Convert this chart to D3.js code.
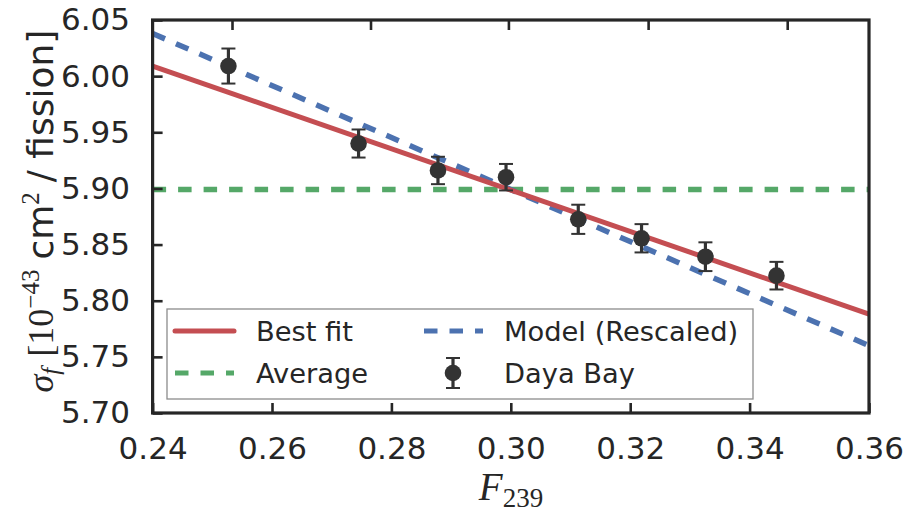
<!DOCTYPE html>
<html>
<head>
<meta charset="utf-8">
<script src="https://cdn.jsdelivr.net/npm/d3@7"></script>
<style>
  body { margin: 0; background: #fff; }
  svg { display: block; }
</style>
</head>
<body>
<svg width="908" height="512"></svg>
<script>
// Daya Bay points: fission fraction of Pu239 vs IBD yield per fission
const fission239 = [0.2527, 0.2745, 0.2878, 0.2992, 0.3113, 0.3219, 0.3326, 0.3445];
const sigmaF = [6.009, 5.940, 5.916, 5.910, 5.8725, 5.8556, 5.8392, 5.8223];
const sigmaErr = [0.0156, 0.0125, 0.0122, 0.0118, 0.013, 0.0126, 0.0128, 0.0123];

// straight lines, given at the two ends of the x range
const lineX = [0.24, 0.36];
const bestFitY = [6.009, 5.788];
const modelY = [6.038, 5.760];
const averageY = 5.899;

const xTicks = [0.24, 0.26, 0.28, 0.30, 0.32, 0.34, 0.36];
const yTicks = [5.70, 5.75, 5.80, 5.85, 5.90, 5.95, 6.00, 6.05];
const topTicks = [0.2533, 0.2765, 0.2996, 0.3230, 0.3463];

const legendLabels = ["Best fit", "Average", "Model (Rescaled)", "Daya Bay"];

const red = "#C44E52", blue = "#4C72B0", green = "#55A868", dark = "#333333", ink = "#262626";

let svg = d3.select("svg");
let plotLeft = 152.6, plotTop = 20, plotRight = 869, plotBottom = 413;
let w = plotRight - plotLeft, h = plotBottom - plotTop;

let x = d3.scaleLinear().domain([0.24, 0.36]).range([0, w]);
let y = d3.scaleLinear().domain([5.70, 6.05]).range([h, 0]);

let g = svg.append("g").attr("transform", `translate(${plotLeft},${plotTop})`);

let line = d3.line().x(d => x(d[0])).y(d => y(d[1]));

// lines
g.append("path")
    .attr("d", line(lineX.map(v => [v, averageY])))
    .attr("stroke", green).attr("stroke-width", 5.5).attr("fill", "none")
    .attr("stroke-dasharray", "13.5,12");
g.append("path")
    .attr("d", line(lineX.map((v, i) => [v, modelY[i]])))
    .attr("stroke", blue).attr("stroke-width", 5.5).attr("fill", "none")
    .attr("stroke-dasharray", "13.5,12");
g.append("path")
    .attr("d", line(lineX.map((v, i) => [v, bestFitY[i]])))
    .attr("stroke", red).attr("stroke-width", 5).attr("fill", "none");

// error bars + points
let pts = g.selectAll(".pt").data(fission239.map((f, i) => ({f: f, s: sigmaF[i], e: sigmaErr[i]})))
    .enter().append("g").attr("class", "pt");
pts.append("line")
    .attr("x1", d => x(d.f)).attr("x2", d => x(d.f))
    .attr("y1", d => y(d.s - d.e)).attr("y2", d => y(d.s + d.e))
    .attr("stroke", dark).attr("stroke-width", 3.2);
[-1, 1].forEach(sgn => {
    pts.append("line")
        .attr("x1", d => x(d.f) - 7).attr("x2", d => x(d.f) + 7)
        .attr("y1", d => y(d.s + sgn * d.e)).attr("y2", d => y(d.s + sgn * d.e))
        .attr("stroke", dark).attr("stroke-width", 2);
});
pts.append("circle")
    .attr("cx", d => x(d.f)).attr("cy", d => y(d.s)).attr("r", 8.3)
    .attr("fill", dark);

// axes
let xAxis = d3.axisBottom(x).tickValues(xTicks).tickFormat(d3.format(".2f"))
    .tickSizeInner(-10).tickSizeOuter(0).tickPadding(24);
let yAxis = d3.axisLeft(y).tickValues(yTicks).tickFormat(d3.format(".2f"))
    .tickSizeInner(-10).tickSizeOuter(0).tickPadding(22.6);
let topAxis = d3.axisTop(x).tickValues(topTicks).tickFormat("")
    .tickSizeInner(-10).tickSizeOuter(0);

function styleAxis(sel) {
    sel.select(".domain").remove();
    sel.selectAll(".tick line").attr("stroke", ink).attr("stroke-width", 2.6);
    sel.selectAll(".tick text").attr("fill", ink)
        .style("font-family", "'DejaVu Sans', sans-serif").style("font-size", "31px");
}
g.append("g").attr("transform", `translate(0,${h})`).call(xAxis).call(styleAxis);
g.append("g").call(yAxis).call(styleAxis);
g.append("g").call(topAxis).call(styleAxis);

g.append("rect").attr("width", w).attr("height", h)
    .attr("fill", "none").attr("stroke", ink).attr("stroke-width", 3.2);

// legend
let lg = g.append("g").attr("transform", `translate(${167 - plotLeft},${309 - plotTop})`);
lg.append("rect").attr("width", 586).attr("height", 90)
    .attr("fill", "#fff").attr("stroke", "#8c8c8c").attr("stroke-width", 1.3);
let rowY = [22, 64], colX = [8, 257], txtX = [89, 337];
let items = [
    {c: 0, r: 0, kind: "solid", color: red},
    {c: 0, r: 1, kind: "dash", color: green},
    {c: 1, r: 0, kind: "dash", color: blue},
    {c: 1, r: 1, kind: "point", color: dark}
];
items.forEach((it, i) => {
    let lx = colX[it.c], ly = rowY[it.r];
    if (it.kind === "point") {
        let cx = lx + 29;
        lg.append("line").attr("x1", cx).attr("x2", cx).attr("y1", ly - 15).attr("y2", ly + 15)
            .attr("stroke", dark).attr("stroke-width", 3.2);
        [-15, 15].forEach(o => lg.append("line").attr("x1", cx - 7).attr("x2", cx + 7)
            .attr("y1", ly + o).attr("y2", ly + o).attr("stroke", dark).attr("stroke-width", 2));
        lg.append("circle").attr("cx", cx).attr("cy", ly).attr("r", 8.3).attr("fill", dark);
    } else {
        lg.append("line").attr("x1", lx).attr("x2", lx + 59).attr("y1", ly).attr("y2", ly)
            .attr("stroke", it.color).attr("stroke-width", 5)
            .attr("stroke-linecap", it.kind === "solid" ? "round" : "butt")
            .attr("stroke-dasharray", it.kind === "dash" ? "13.5,12" : null);
    }
    lg.append("text").attr("x", txtX[it.c]).attr("y", ly).attr("dy", "0.36em")
        .attr("fill", ink)
        .style("font-family", "'DejaVu Sans', sans-serif").style("font-size", "27.3px")
        .text(legendLabels[i]);
});

// axis labels
let serif = "'Liberation Serif', 'DejaVu Serif', serif";
let sans = "'DejaVu Sans', sans-serif";
let yl = svg.append("text")
    .attr("transform", `translate(53,211) rotate(-90)`)
    .attr("text-anchor", "middle").attr("fill", ink).style("font-size", "36px");
yl.append("tspan").style("font-family", serif).style("font-style", "italic").text("σ");
yl.append("tspan").style("font-family", serif).style("font-style", "italic")
    .style("font-size", "25px").attr("dy", 6).text("f");
yl.append("tspan").style("font-family", serif).attr("dy", -6).attr("dx", 11).text("[10");
yl.append("tspan").style("font-family", serif).style("font-size", "25px").attr("dy", -14).text("\u221243");
yl.append("tspan").style("font-family", sans).attr("dy", 14).attr("dx", 10).text("cm");
yl.append("tspan").style("font-family", serif).style("font-size", "25px").attr("dy", -14).text("2");
yl.append("tspan").style("font-family", sans).attr("dy", 14).attr("dx", 10).text("/ fission]");

let xl = svg.append("text")
    .attr("x", 511).attr("y", 500)
    .attr("text-anchor", "middle").attr("fill", ink).style("font-family", serif).style("font-size", "39px");
xl.append("tspan").style("font-style", "italic").text("F");
xl.append("tspan").style("font-size", "27px").attr("dy", 7).text("239");
</script>
</body>
</html>
